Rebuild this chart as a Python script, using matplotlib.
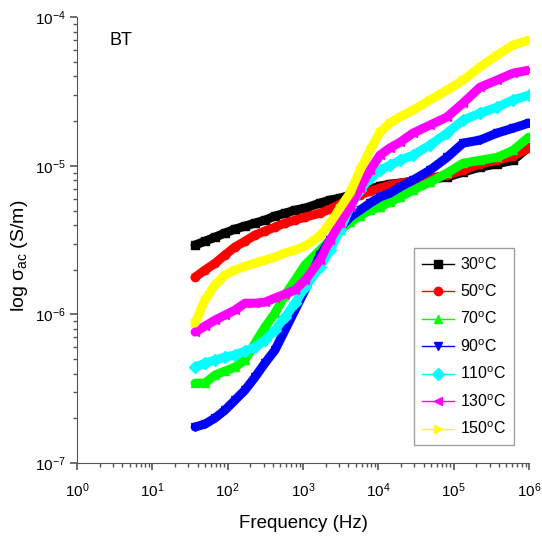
import matplotlib
matplotlib.use("Agg")
import matplotlib.pyplot as plt
from matplotlib.lines import Line2D
from matplotlib.ticker import LogLocator, NullFormatter

plt.rcParams['font.family'] = ['Liberation Sans', 'DejaVu Sans']
plt.rcParams['mathtext.fontset'] = 'custom'
plt.rcParams['mathtext.rm'] = 'Liberation Sans'
plt.rcParams['mathtext.it'] = 'Liberation Sans:italic'

# frequency points (Hz)
freq = [37, 50, 68, 92, 125, 170, 231, 313, 425, 577, 783, 1064, 1683, 2285,
        3100, 4210, 5710, 7760, 1.05e4, 1.43e4, 1.94e4, 2.89e4, 4.85e4,
        8.17e4, 1.33e5, 2.24e5, 3.76e5, 6.13e5, 1e6]

# ac conductivity (S/m) for each temperature
s30 = [2.93e-6, 3.11e-6, 3.31e-6, 3.53e-6, 3.75e-6, 3.93e-6, 4.12e-6, 4.31e-6,
       4.59e-6, 4.80e-6, 5.03e-6, 5.19e-6, 5.61e-6, 5.88e-6, 6.06e-6, 6.35e-6,
       6.65e-6, 6.97e-6, 7.30e-6, 7.53e-6, 7.64e-6, 7.89e-6, 8.13e-6, 8.39e-6,
       9.07e-6, 9.80e-6, 1.03e-5, 1.09e-5, 1.34e-5]
s50 = [1.78e-6, 1.99e-6, 2.21e-6, 2.51e-6, 2.84e-6, 3.11e-6, 3.42e-6, 3.64e-6,
       3.87e-6, 4.12e-6, 4.31e-6, 4.52e-6, 4.80e-6, 5.11e-6, 5.52e-6, 5.97e-6,
       6.35e-6, 6.75e-6, 7.08e-6, 7.41e-6, 7.64e-6, 7.89e-6, 8.26e-6, 8.65e-6,
       9.35e-6, 1.03e-5, 1.09e-5, 1.16e-5, 1.32e-5]
s70 = [3.45e-7, 3.45e-7, 3.91e-7, 4.16e-7, 4.42e-7, 4.93e-7, 6.42e-7, 8.22e-7,
       1.02e-6, 1.35e-6, 1.70e-6, 2.15e-6, 2.71e-6, 3.16e-6, 3.69e-6, 4.18e-6,
       4.59e-6, 5.03e-6, 5.27e-6, 5.70e-6, 6.16e-6, 6.86e-6, 7.77e-6, 8.93e-6,
       1.04e-5, 1.09e-5, 1.14e-5, 1.27e-5, 1.56e-5]
s90 = [1.75e-7, 1.83e-7, 2.01e-7, 2.27e-7, 2.65e-7, 3.10e-7, 3.79e-7, 4.71e-7,
       5.76e-7, 7.85e-7, 1.07e-6, 1.46e-6, 2.51e-6, 3.16e-6, 3.81e-6, 4.52e-6,
       5.03e-6, 5.61e-6, 6.16e-6, 6.55e-6, 7.19e-6, 8.01e-6, 9.35e-6, 1.14e-5,
       1.42e-5, 1.49e-5, 1.66e-5, 1.79e-5, 1.94e-5]
s110 = [4.42e-7, 4.71e-7, 4.93e-7, 5.17e-7, 5.33e-7, 5.67e-7, 6.03e-7, 6.72e-7,
        7.85e-7, 9.60e-7, 1.19e-6, 1.53e-6, 2.08e-6, 2.71e-6, 3.69e-6, 5.27e-6,
        6.86e-6, 8.26e-6, 9.35e-6, 1.01e-5, 1.09e-5, 1.18e-5, 1.38e-5, 1.66e-5,
        2.03e-5, 2.26e-5, 2.48e-5, 2.77e-5, 2.99e-5]
s130 = [7.61e-7, 8.35e-7, 9.16e-7, 9.90e-7, 1.07e-6, 1.19e-6, 1.19e-6, 1.21e-6,
        1.29e-6, 1.37e-6, 1.46e-6, 1.70e-6, 2.32e-6, 3.16e-6, 4.12e-6, 5.27e-6,
        7.08e-6, 9.35e-6, 1.18e-5, 1.32e-5, 1.44e-5, 1.66e-5, 1.88e-5, 2.13e-5,
        2.64e-5, 3.38e-5, 3.77e-5, 4.20e-5, 4.40e-5]
s150 = [8.75e-7, 1.25e-6, 1.58e-6, 1.84e-6, 1.99e-6, 2.11e-6, 2.21e-6, 2.32e-6,
        2.43e-6, 2.59e-6, 2.71e-6, 2.88e-6, 3.37e-6, 4.12e-6, 5.19e-6, 6.55e-6,
        9.35e-6, 1.27e-5, 1.68e-5, 1.94e-5, 2.13e-5, 2.37e-5, 2.77e-5, 3.23e-5,
        3.77e-5, 4.61e-5, 5.55e-5, 6.48e-5, 7.00e-5]

series = [s30, s50, s70, s90, s110, s130, s150]
labels = [r'30$^{\rm o}$C', r'50$^{\rm o}$C', r'70$^{\rm o}$C', r'90$^{\rm o}$C',
          r'110$^{\rm o}$C', r'130$^{\rm o}$C', r'150$^{\rm o}$C']
colors = ['black', 'red', '#00ff00', '#0000ff', '#00ffff', '#ff00ff', '#ffff00']
markers = ['s', 'o', '^', 'v', 'D', '<', '>']
xticks = [1e0, 1e1, 1e2, 1e3, 1e4, 1e5, 1e6]
yticks = [1e-7, 1e-6, 1e-5, 1e-4]

fig = plt.figure(figsize=(5.42, 5.36), dpi=100)
ax = fig.add_axes([0.142, 0.136, 0.834, 0.832])

handles = []
for ys, lab, c, m in zip(series, labels, colors, markers):
    ax.plot(freq, ys, color=c, lw=6.5, marker=m, ms=6, solid_capstyle='round',
            solid_joinstyle='round')
    handles.append(Line2D([], [], color=c, marker=m, lw=1, ms=6, label=lab))

ax.set_xscale('log')
ax.set_yscale('log')
ax.set_xticks(xticks)
ax.set_yticks(yticks)
ax.set_xlim(1, 1e6)
ax.set_ylim(1e-7, 1e-4)

ax.spines['top'].set_visible(False)
ax.spines['right'].set_visible(False)
ax.spines['left'].set_color('#555555')
ax.spines['bottom'].set_color('#555555')
ax.xaxis.set_minor_locator(LogLocator(base=10, subs=range(2, 10), numticks=20))
ax.yaxis.set_minor_locator(LogLocator(base=10, subs=range(2, 10), numticks=20))
ax.xaxis.set_minor_formatter(NullFormatter())
ax.yaxis.set_minor_formatter(NullFormatter())
ax.tick_params(which='major', direction='out', length=5, width=1.2,
               color='#555555', labelsize=11)
ax.tick_params(axis='x', which='major', pad=8)
ax.tick_params(axis='y', which='major', pad=3)
ax.tick_params(which='minor', direction='out', length=3, width=1,
               color='#555555')

ax.set_xlabel('Frequency (Hz)', fontsize=13.5, labelpad=11)
ax.set_ylabel(r'log σ$_{\rm ac}$ (S/m)', fontsize=14)
ax.yaxis.set_label_coords(-0.105, 0.466)
ax.text(0.073, 0.948, 'BT', transform=ax.transAxes, fontsize=13,
        va='center', ha='left')

leg = ax.legend(handles=handles, loc='lower right',
                bbox_to_anchor=(0.967, 0.04), fontsize=11.5, frameon=True,
                fancybox=False, edgecolor='#888888', handlelength=2.0,
                labelspacing=0.68, borderpad=0.5, handletextpad=0.35,
                borderaxespad=0)
leg.get_frame().set_linewidth(1)

fig.savefig('out.png', dpi=100)
